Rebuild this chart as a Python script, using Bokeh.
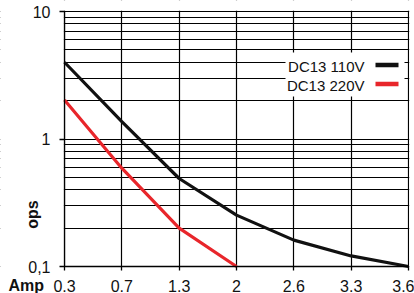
import math
from bokeh.plotting import figure
from bokeh.models import Range1d, FixedTicker, Label, BoxAnnotation
from bokeh.embed import file_html
from bokeh.resources import INLINE

# ---- data ----
amp_labels = ["0.3", "0.7", "1.3", "2", "2.6", "3.3", "3.6"]
ops_110 = [4.0, 1.37, 0.49, 0.253, 0.161, 0.121, 0.1]
ops_220 = [2.02, 0.59, 0.2, 0.1]
series_names = ["DC13 110V", "DC13 220V"]
series_colors = ["#111111", "#e8262b"]
y_major = [0.1, 1, 10]
y_major_labels = ["0,1", "1", "10"]
y_minor = [0.2, 0.3, 0.4, 0.5, 0.6, 0.7, 0.8, 0.9, 2, 3, 4, 5, 6, 7, 8, 9]

FONT = "Liberation Sans"
W, H = 414, 293

# ---- layout (pixels); the frame covers the whole canvas ----
AX_X0, AX_X1 = 64, 408      # pixel x of first / last category
AX_YTOP, AX_YBOT = 11, 266  # pixel y of 10 and 0.1
n = len(amp_labels)
px_per_cat = (AX_X1 - AX_X0) / (n - 1)
x_start = -AX_X0 / px_per_cat
x_end = (n - 1) + (W - AX_X1) / px_per_cat
dec = (AX_YBOT - AX_YTOP) / (math.log10(y_major[-1]) - math.log10(y_major[0]))
y_lo = 10 ** (math.log10(y_major[0]) - (H - AX_YBOT) / dec)
y_hi = 10 ** (math.log10(y_major[-1]) + AX_YTOP / dec)

p = figure(width=W, height=H, output_backend="svg", toolbar_location=None,
           y_axis_type="log", x_range=Range1d(x_start, x_end),
           y_range=Range1d(y_lo, y_hi), min_border=0)
p.background_fill_color = "white"
p.border_fill_color = "white"
p.outline_line_color = None

# x axis
xa = p.xaxis[0]
xa.ticker = FixedTicker(ticks=list(range(n)))
xa.major_label_overrides = {i: s for i, s in enumerate(amp_labels)}
xa.fixed_location = y_major[0]
xa.bounds = (0, n - 1)
# y axis
ya = p.yaxis[0]
ya.ticker = FixedTicker(ticks=y_major, minor_ticks=y_minor)
ya.major_label_overrides = {v: s for v, s in zip(y_major, y_major_labels)}
ya.fixed_location = 0
ya.bounds = (y_major[0], y_major[-1])

for ax in (xa, ya):
    ax.axis_line_color = "black"
    ax.axis_line_width = 1.3
    ax.major_tick_line_color = "black"
    ax.major_tick_line_width = 1.3
    ax.major_tick_in = 0
    ax.minor_tick_line_color = None
    ax.major_label_text_font = FONT
    ax.major_label_text_font_size = "16px"
    ax.major_label_text_color = "#111111"
xa.major_tick_out = 4
xa.major_label_standoff = 9
ya.major_tick_out = 5
ya.major_label_standoff = 9

p.xgrid.grid_line_color = "black"
p.xgrid.grid_line_width = 1.2
p.ygrid.grid_line_color = "black"
p.ygrid.grid_line_width = 1.2
p.ygrid.minor_grid_line_color = "black"
p.ygrid.minor_grid_line_width = 1.2

# white margins hiding the grid outside the plotting area (screen units, from bottom-left)
margins = [
    (0, AX_X0 - 0.6, 0, H),                      # left
    (0, W, 0, H - AX_YBOT - 0.6),                # bottom
    (0, W, H - AX_YTOP + 0.7, H),                # top
    (AX_X1 + 0.7, W, 0, H),                      # right
]
for l, r, b, t in margins:
    p.add_layout(BoxAnnotation(left=l, right=r, bottom=b, top=t,
                               left_units="screen", right_units="screen",
                               top_units="screen", bottom_units="screen",
                               fill_color="white", fill_alpha=1, line_color=None,
                               level="underlay"))

# curves
p.line(list(range(len(ops_110))), ops_110, line_color=series_colors[0], line_width=3.2)
p.line(list(range(len(ops_220))), ops_220, line_color=series_colors[1], line_width=3.2)

# legend (text left, swatch right)
p.add_layout(BoxAnnotation(left=285, right=404, bottom=197, top=241,
                           left_units="screen", right_units="screen",
                           top_units="screen", bottom_units="screen",
                           fill_color="white", fill_alpha=1, line_color=None, level="overlay"))
rows_y = [228.5, 209.5]
for name, col, yy in zip(series_names, series_colors, rows_y):
    p.add_layout(Label(x=364, y=yy - 1, x_units="screen", y_units="screen", text=name,
                       text_align="right", text_baseline="middle", text_font=FONT,
                       text_font_size="15px", text_color="#111111", level="overlay"))
    p.add_layout(BoxAnnotation(left=375, right=398, bottom=yy - 2.3, top=yy + 2.3,
                               left_units="screen", right_units="screen",
                               top_units="screen", bottom_units="screen",
                               fill_color=col, fill_alpha=1, line_color=None, level="overlay"))

# axis names
p.add_layout(Label(x=32, y=79, x_units="screen", y_units="screen", text="ops",
                   angle=math.pi / 2, text_align="center", text_baseline="middle",
                   text_font=FONT, text_font_style="bold", text_font_size="16px",
                   text_color="#111111"))
p.add_layout(Label(x=8, y=H - (AX_YBOT + 4 + 6), x_units="screen", y_units="screen",
                   text="Amp", text_align="left", text_baseline="top",
                   text_font=FONT, text_font_style="bold", text_font_size="16px",
                   text_color="#111111"))

open("out.html", "w").write(file_html(p, INLINE))
